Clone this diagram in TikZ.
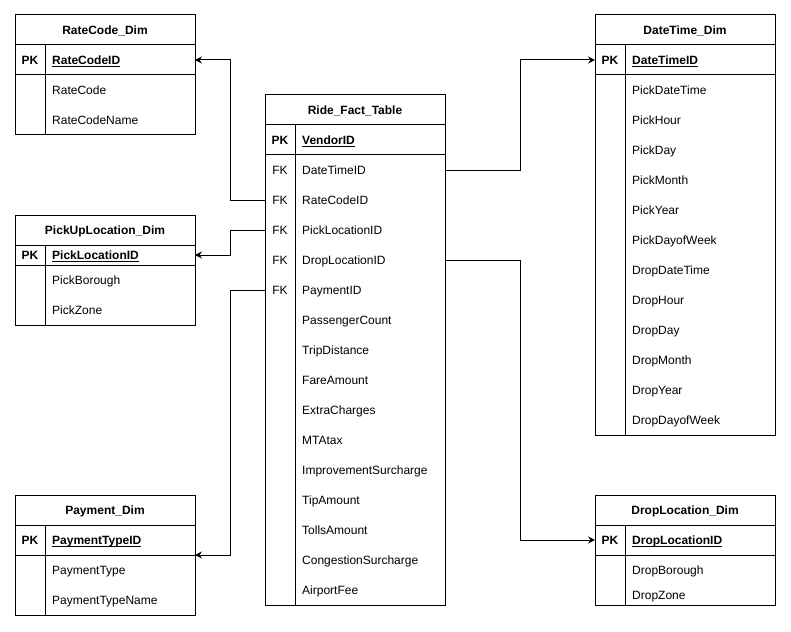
\documentclass[tikz,border=0pt]{standalone}
\usepackage{fontspec}
\setmainfont{Liberation Sans}
\usetikzlibrary{arrows.meta}
% underline at a fixed depth below the baseline
\newcommand\keyline[1]{\setbox0\hbox{#1}\rlap{\rule[-2.2pt]{\wd0}{0.9pt}}\box0}
\begin{document}
\begin{tikzpicture}[x=1pt,y=-1pt,
  box/.style={draw=black,line width=1pt},
  txt/.style={font=\fontsize{12}{14}\selectfont,inner sep=0pt,yshift=-4.3pt},
  title/.style={txt,font=\fontsize{12}{14}\selectfont\bfseries,anchor=base},
  key/.style={txt,font=\fontsize{12}{14}\selectfont\bfseries,anchor=base},
  fk/.style={txt,anchor=base},
  keyname/.style={txt,font=\fontsize{12}{14}\selectfont\bfseries,anchor=base west},
  field/.style={txt,anchor=base west},
  link/.style={draw=black,line width=1pt,-{Stealth[length=7pt,width=7pt,inset=2.5pt]}}]

\fill[white] (0,0) rectangle (791,631);
\useasboundingbox (0,0) rectangle (791,631);

% ---------- RateCode_Dim ----------
\draw[box] (15,15) rectangle (195,135);
\draw[box] (15,45) -- (195,45) (15,75) -- (195,75) (45,45) -- (45,135);
\node[title] (rc-title) at (105,30) {RateCode\_Dim};
\node[key] (rc-pk) at (30,60) {PK};
\node[keyname] (rc-id) at (52,60) {\keyline{RateCodeID}};
\node[field] (rc-f1) at (52,90) {RateCode};
\node[field] (rc-f2) at (52,120) {RateCodeName};
\coordinate (rc-in) at (195,60);

% ---------- PickUpLocation_Dim ----------
\draw[box] (15,215) rectangle (195,325);
\draw[box] (15,245) -- (195,245) (15,265) -- (195,265) (45,245) -- (45,325);
\node[title] (pu-title) at (105,230) {PickUpLocation\_Dim};
\node[key] (pu-pk) at (30,255) {PK};
\node[keyname] (pu-id) at (52,255) {\keyline{PickLocationID}};
\node[field] (pu-f1) at (52,280) {PickBorough};
\node[field] (pu-f2) at (52,310) {PickZone};
\coordinate (pu-in) at (195,255);

% ---------- Payment_Dim ----------
\draw[box] (15,495) rectangle (195,615);
\draw[box] (15,525) -- (195,525) (15,555) -- (195,555) (45,525) -- (45,615);
\node[title] (pay-title) at (105,510) {Payment\_Dim};
\node[key] (pay-pk) at (30,540) {PK};
\node[keyname] (pay-id) at (52,540) {\keyline{PaymentTypeID}};
\node[field] (pay-f1) at (52,570) {PaymentType};
\node[field] (pay-f2) at (52,600) {PaymentTypeName};
\coordinate (pay-in) at (195,555);

% ---------- Ride_Fact_Table ----------
\draw[box] (265,95) rectangle (445,605);
\draw[box] (265,125) -- (445,125) (265,155) -- (445,155) (295,125) -- (295,605);
\node[title] (ft-title) at (355,110) {Ride\_Fact\_Table};
\node[key] (ft-pk) at (280,140) {PK};
\node[keyname] (ft-id) at (302,140) {\keyline{VendorID}};
\foreach \name [count=\i] in {DateTimeID,RateCodeID,PickLocationID,DropLocationID,PaymentID}
  \node[fk] (ft-fk\i) at (280,140+30*\i) {FK};
\foreach \name [count=\i] in {DateTimeID,RateCodeID,PickLocationID,DropLocationID,PaymentID,
    PassengerCount,TripDistance,FareAmount,ExtraCharges,MTAtax,ImprovementSurcharge,
    TipAmount,TollsAmount,CongestionSurcharge,AirportFee}
  \node[field] (ft-f\i) at (302,140+30*\i) {\name};
\coordinate (ft-dt) at (445,170);
\coordinate (ft-rc) at (265,200);
\coordinate (ft-pu) at (265,230);
\coordinate (ft-dl) at (445,260);
\coordinate (ft-pay) at (265,290);

% ---------- DateTime_Dim ----------
\draw[box] (595,15) rectangle (775,435);
\draw[box] (595,45) -- (775,45) (595,75) -- (775,75) (625,45) -- (625,435);
\node[title] (dt-title) at (685,30) {DateTime\_Dim};
\node[key] (dt-pk) at (610,60) {PK};
\node[keyname] (dt-id) at (632,60) {\keyline{DateTimeID}};
\foreach \name [count=\i] in {PickDateTime,PickHour,PickDay,PickMonth,PickYear,PickDayofWeek,
    DropDateTime,DropHour,DropDay,DropMonth,DropYear,DropDayofWeek}
  \node[field] (dt-f\i) at (632,60+30*\i) {\name};
\coordinate (dt-in) at (595,60);

% ---------- DropLocation_Dim ----------
\draw[box] (595,495) rectangle (775,605);
\draw[box] (595,525) -- (775,525) (595,555) -- (775,555) (625,525) -- (625,605);
\node[title] (dl-title) at (685,510) {DropLocation\_Dim};
\node[key] (dl-pk) at (610,540) {PK};
\node[keyname] (dl-id) at (632,540) {\keyline{DropLocationID}};
\node[field] (dl-f1) at (632,570) {DropBorough};
\node[field] (dl-f2) at (632,595) {DropZone};
\coordinate (dl-in) at (595,540);

% ---------- relationships ----------
\draw[link] (ft-rc) -- ++(-35,0) |- (rc-in);
\draw[link] (ft-pu) -- ++(-35,0) |- (pu-in);
\draw[link] (ft-pay) -- ++(-35,0) |- (pay-in);
\draw[link] (ft-dt) -- ++(75,0) |- (dt-in);
\draw[link] (ft-dl) -- ++(75,0) |- (dl-in);
\end{tikzpicture}
\end{document}
